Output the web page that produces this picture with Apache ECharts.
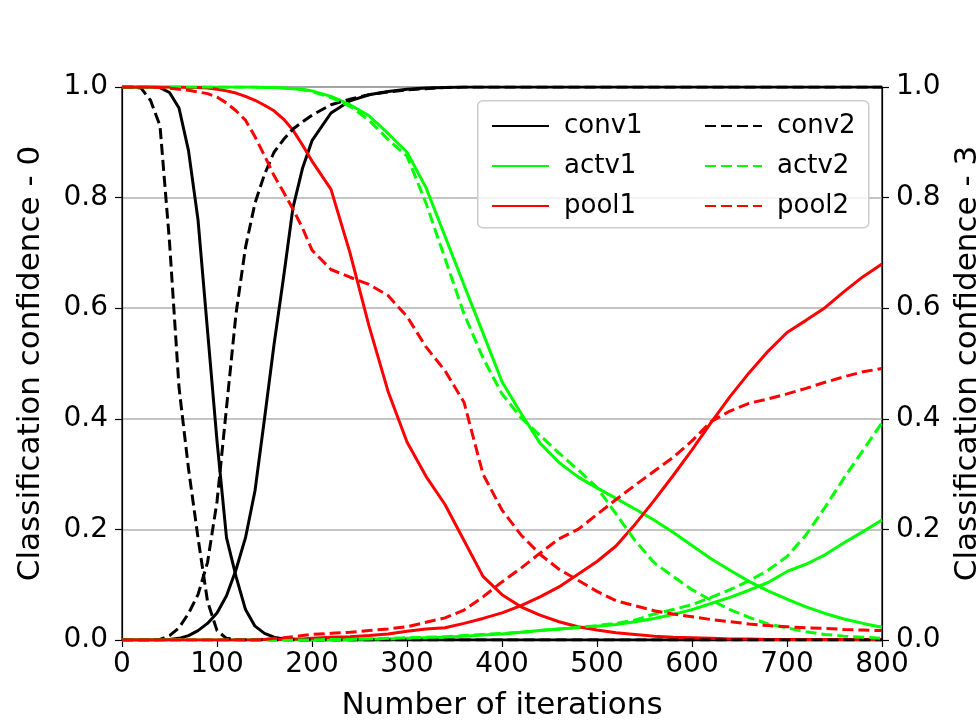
<!DOCTYPE html>
<html>
<head>
<meta charset="utf-8">
<script src="https://cdn.jsdelivr.net/npm/echarts@6/dist/echarts.min.js"></script>
<style>
  html, body { margin: 0; padding: 0; background: #fff; }
  #chart { width: 980px; height: 721px; }
</style>
</head>
<body>
<div id="chart"></div>
<script>
// iterations: every 10 up to 200, then every 20
var iterations = [0,10,20,30,40,50,60,70,80,90,100,110,120,130,140,150,160,170,180,190,200,
  220,240,260,280,300,320,340,360,380,400,420,440,460,480,500,520,540,560,580,600,
  620,640,660,680,700,720,740,760,780,800];

// confidence for class 0 (falling curves)
var conv1Dec = [1,1,1,1,0.999,0.99,0.962,0.885,0.76,0.56,0.36,0.185,0.115,0.055,0.025,0.012,0.005,0.002,0.001,0,0,
  0,0,0,0,0,0,0,0,0,0,0,0,0,0,0,0,0,0,0,0,0,0,0,0,0,0,0,0,0,0];
var conv2Dec = [1,1,0.998,0.976,0.93,0.72,0.457,0.31,0.185,0.07,0.017,0.003,0.001,0,0,0,0,0,0,0,0,
  0,0,0,0,0,0,0,0,0,0,0,0,0,0,0,0,0,0,0,0,0,0,0,0,0,0,0,0,0,0];
var actv1Dec = [1,1,1,1,1,1,1,1,1,1,1,1,1,1,1,0.999,0.999,0.998,0.997,0.996,0.993,
  0.983,0.968,0.948,0.916,0.882,0.818,0.73,0.642,0.555,0.467,0.41,0.356,0.321,0.295,0.275,0.256,0.237,0.217,0.195,0.171,
  0.147,0.126,0.106,0.089,0.074,0.06,0.048,0.038,0.03,0.023];
var actv2Dec = [1,1,1,1,1,1,1,1,1,1,1,1,1,1,1,0.999,0.999,0.998,0.997,0.995,0.992,
  0.981,0.965,0.94,0.905,0.875,0.79,0.69,0.59,0.51,0.445,0.402,0.37,0.338,0.308,0.276,0.228,0.18,0.14,0.115,0.091,
  0.072,0.055,0.041,0.029,0.022,0.015,0.01,0.007,0.005,0.003];
var pool1Dec = [1,1,1,1,1,1,1,0.999,0.999,0.998,0.996,0.993,0.989,0.983,0.976,0.967,0.957,0.942,0.922,0.895,0.866,
  0.815,0.7,0.568,0.45,0.358,0.296,0.245,0.18,0.115,0.082,0.06,0.045,0.033,0.024,0.018,0.013,0.01,0.007,0.005,0.004,
  0.003,0.002,0.002,0.001,0.001,0.001,0.001,0.001,0.001,0.001];
var pool2Dec = [1,1,1,1,0.999,0.998,0.996,0.994,0.991,0.988,0.982,0.971,0.957,0.94,0.91,0.876,0.84,0.81,0.779,0.745,0.705,
  0.67,0.656,0.643,0.623,0.585,0.53,0.487,0.43,0.3,0.235,0.19,0.155,0.128,0.108,0.088,0.071,0.062,0.053,0.047,0.042,
  0.037,0.033,0.029,0.026,0.024,0.022,0.021,0.019,0.018,0.017];

// confidence for class 3 (rising curves)
var conv1Rise = [0,0,0,0,0,0.001,0.003,0.008,0.017,0.03,0.049,0.08,0.127,0.185,0.27,0.4,0.534,0.655,0.782,0.853,0.903,
  0.953,0.975,0.986,0.992,0.996,0.998,0.999,1,1,1,1,1,1,1,1,1,1,1,1,1,1,1,1,1,1,1,1,1,1,1];
var conv2Rise = [0,0,0,0,0.001,0.008,0.022,0.048,0.082,0.14,0.25,0.42,0.59,0.71,0.79,0.842,0.882,0.905,0.924,0.937,0.949,
  0.968,0.978,0.986,0.991,0.995,0.997,0.999,1,1,1,1,1,1,1,1,1,1,1,1,1,1,1,1,1,1,1,1,1,1,1];
var actv1Rise = [0,0,0,0,0,0,0,0,0,0,0,0,0,0,0,0,0,0,0,0,0,
  0.001,0.001,0.002,0.002,0.003,0.004,0.005,0.007,0.009,0.011,0.014,0.017,0.02,0.022,0.025,0.028,0.033,0.039,0.046,0.055,
  0.066,0.077,0.09,0.104,0.124,0.137,0.154,0.176,0.196,0.217];
var actv2Rise = [0,0,0,0,0,0,0,0,0,0,0,0,0,0,0,0,0,0,0,0,0,
  0.001,0.001,0.002,0.003,0.004,0.005,0.006,0.008,0.01,0.012,0.014,0.017,0.02,0.023,0.026,0.03,0.036,0.047,0.055,0.064,
  0.077,0.091,0.107,0.126,0.151,0.19,0.24,0.293,0.343,0.393];
var pool1Rise = [0,0,0,0,0,0,0,0,0,0,0,0,0,0,0,0.001,0.001,0.001,0.002,0.002,0.003,
  0.005,0.006,0.008,0.011,0.016,0.02,0.022,0.03,0.039,0.049,0.062,0.078,0.096,0.119,0.142,0.17,0.209,0.252,0.297,0.344,
  0.393,0.44,0.483,0.522,0.556,0.578,0.601,0.63,0.657,0.68];
var pool2Rise = [0,0,0,0,0,0,0,0,0,0,0,0,0,0,0,0.001,0.003,0.004,0.006,0.008,0.01,
  0.012,0.014,0.017,0.02,0.024,0.032,0.04,0.054,0.078,0.105,0.13,0.157,0.183,0.2,0.227,0.254,0.28,0.305,0.33,0.36,
  0.395,0.414,0.428,0.436,0.445,0.455,0.466,0.476,0.485,0.491];

var names1 = ['conv1', 'actv1', 'pool1'];
var names2 = ['conv2', 'actv2', 'pool2'];
var yTicks = [0, 0.2, 0.4, 0.6, 0.8, 1.0];

var FONT = 'DejaVu Sans';
var colors = { conv: '#000000', actv: '#00ff00', pool: '#ff0000' };

function pairs(ys) {
    return iterations.map(function(x, i) { return [x, ys[i]]; });
}

function makeLine(name, ys, yAxisIndex) {
    var dashed = name.charAt(4) === '2';
    return {
        name: name,
        type: 'line',
        yAxisIndex: yAxisIndex,
        data: pairs(ys),
        showSymbol: false,
        symbol: 'none',
        animation: false,
        lineStyle: {
            color: colors[name.substr(0, 4)],
            width: 3,
            type: dashed ? [11, 5] : 'solid'
        },
        itemStyle: { color: colors[name.substr(0, 4)] }
    };
}

var series = [
    makeLine('conv1', conv1Dec, 0), makeLine('conv1', conv1Rise, 1),
    makeLine('actv1', actv1Dec, 0), makeLine('actv1', actv1Rise, 1),
    makeLine('pool1', pool1Dec, 0), makeLine('pool1', pool1Rise, 1),
    makeLine('conv2', conv2Dec, 0), makeLine('conv2', conv2Rise, 1),
    makeLine('actv2', actv2Dec, 0), makeLine('actv2', actv2Rise, 1),
    makeLine('pool2', pool2Dec, 0), makeLine('pool2', pool2Rise, 1)
];

function yAxisOpt(name, pos, showGrid) {
    return {
        type: 'value',
        position: pos,
        min: yTicks[0],
        max: yTicks[yTicks.length - 1],
        interval: 0.2,
        name: name,
        nameLocation: 'middle',
        nameRotate: 90,
        nameGap: pos === 'left' ? 76 : 70,
        nameTextStyle: { fontFamily: FONT, fontSize: 31, color: '#000' },
        axisLine: { show: true, lineStyle: { color: '#000', width: 1.2 } },
        axisTick: { show: true, length: 7, lineStyle: { color: '#000', width: 1.2 } },
        axisLabel: {
            fontFamily: FONT, fontSize: 28, color: '#000', margin: 14,
            formatter: function(v) { return v.toFixed(1); }
        },
        splitLine: { show: showGrid, lineStyle: { color: '#b0b0b0', width: 1.6 } }
    };
}

function legendOpt(names, left) {
    return {
        data: names,
        orient: 'vertical',
        left: left,
        top: 108,
        itemWidth: 57,
        itemHeight: 14,
        itemGap: 14,
        z: 20,
        itemStyle: { opacity: 0 },
        textStyle: { fontFamily: FONT, fontSize: 26, lineHeight: 26, color: '#000', padding: [0, 0, 0, 10] }
    };
}

var dom = document.getElementById('chart');
var chart = echarts.init(dom, null, { renderer: 'canvas' });

var option = {
    backgroundColor: '#ffffff',
    animation: false,
    grid: {
        left: 122, right: 98, top: 87, bottom: 81,
        outerBoundsMode: 'none',
        containLabel: false,
        show: true, borderColor: '#000', borderWidth: 1.2, backgroundColor: 'transparent'
    },
    legend: [legendOpt(names1, 486), legendOpt(names2, 699)],
    graphic: [{
        type: 'rect',
        left: 477, top: 100, z: 15,
        shape: { width: 391, height: 127, r: 5 },
        style: { fill: 'rgba(255,255,255,0.8)', stroke: '#cccccc', lineWidth: 1.5 }
    }],
    xAxis: {
        type: 'value',
        min: 0, max: 800, interval: 100,
        name: 'Number of iterations',
        nameLocation: 'middle',
        nameGap: 50,
        nameTextStyle: { fontFamily: FONT, fontSize: 31, color: '#000' },
        axisLine: { show: true, onZero: false, lineStyle: { color: '#000', width: 1.2 } },
        axisTick: { show: true, length: 7, lineStyle: { color: '#000', width: 1.2 } },
        axisLabel: { fontFamily: FONT, fontSize: 28, color: '#000', margin: 11 },
        splitLine: { show: false }
    },
    yAxis: [
        yAxisOpt('Classification confidence - 0', 'left', true),
        yAxisOpt('Classification confidence - 3', 'right', false)
    ],
    series: series
};

chart.setOption(option);
window.onresize = chart.resize;
</script>
</body>
</html>
